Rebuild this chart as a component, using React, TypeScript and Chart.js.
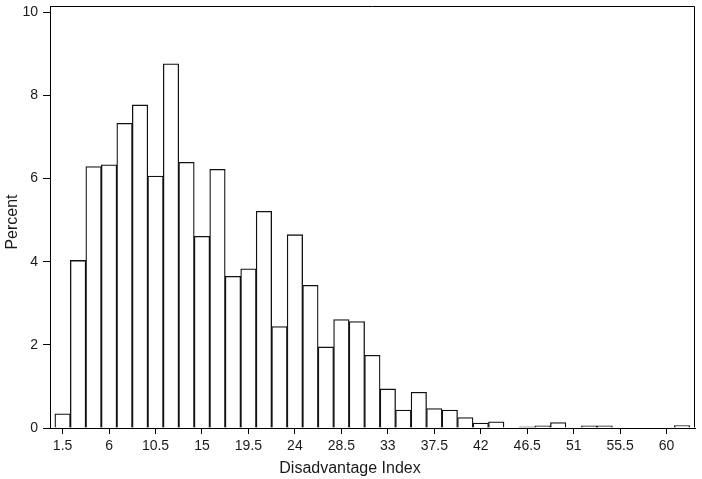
import React, { useEffect, useRef } from "react";
import { Chart, registerables } from "chart.js";

Chart.register(...registerables);

// Bin centres (Disadvantage Index), bin width 1.5
const binCenters = [
  1.5, 3, 4.5, 6, 7.5, 9, 10.5, 12, 13.5, 15, 16.5, 18, 19.5, 21, 22.5, 24, 25.5, 27,
  28.5, 30, 31.5, 33, 34.5, 36, 37.5, 39, 40.5, 42, 43.5, 45, 46.5, 48, 49.5, 51, 52.5,
  54, 55.5, 57, 58.5, 60, 61.5,
];
// Percent per bin
const percentValues = [
  0.34, 4.03, 6.29, 6.33, 7.33, 7.77, 6.06, 8.76, 6.39, 4.61, 6.22, 3.65, 3.83, 5.21,
  2.44, 4.65, 3.43, 1.95, 2.61, 2.56, 1.75, 0.94, 0.43, 0.86, 0.47, 0.43, 0.25, 0.12,
  0.15, 0, 0.03, 0.05, 0.13, 0, 0.05, 0.05, 0, 0, 0, 0, 0.06,
];
const xTickValues = [1.5, 6, 10.5, 15, 19.5, 24, 28.5, 33, 37.5, 42, 46.5, 51, 55.5, 60];
const xTickLabels = ["1.5", "6", "10.5", "15", "19.5", "24", "28.5", "33", "37.5", "42", "46.5", "51", "55.5", "60"];
const yTickValues = [0, 2, 4, 6, 8, 10];
const yTickLabels = ["0", "2", "4", "6", "8", "10"];
const xTitle = "Disadvantage Index";
const yTitle = "Percent";

const FONT = "'Liberation Sans', Arial, sans-serif";
const TEXT = "#1a1a1a";

const framePlugin = {
  id: "frame",
  afterDraw(chart: any) {
    const { ctx, chartArea } = chart;
    const l = Math.round(chartArea.left) + 0.5;
    const r = Math.round(chartArea.right) - 0.5;
    const t = Math.round(chartArea.top) + 0.5;
    const b = Math.round(chartArea.bottom) - 0.5;
    ctx.save();
    ctx.strokeStyle = "#000";
    ctx.lineWidth = 1;
    ctx.beginPath();
    ctx.moveTo(l, t);
    ctx.lineTo(r, t);
    ctx.lineTo(r, b);
    ctx.stroke();

    // axis titles
    ctx.fillStyle = TEXT;
    ctx.font = `16px ${FONT}`;
    ctx.textAlign = "center";
    ctx.textBaseline = "alphabetic";
    ctx.fillText(xTitle, 350, 472.5);
    ctx.translate(16.5, 222);
    ctx.rotate(-Math.PI / 2);
    ctx.fillText(yTitle, 0, 0);
    ctx.restore();
  },
};

export default function App() {
  const ref = useRef<HTMLCanvasElement | null>(null);

  useEffect(() => {
    document.body.style.margin = "0";
    const canvas = ref.current;
    if (!canvas) return;
    const chart = new Chart(canvas, {
      type: "bar",
      data: {
        datasets: [
          {
            data: binCenters.map((x, i) => ({ x, y: percentValues[i] })),
            backgroundColor: "#ffffff",
            borderColor: "#111111",
            borderWidth: 1.3,
            barPercentage: 1,
            categoryPercentage: 1,
          },
        ],
      },
      options: {
        responsive: false,
        animation: false,
        layout: { padding: { left: 0, right: 7, top: 6, bottom: 0 } },
        plugins: {
          legend: { display: false },
          tooltip: { enabled: false },
        },
        scales: {
          x: {
            type: "linear",
            offset: false,
            min: 0.28,
            max: 62.75,
            afterBuildTicks: (scale: any) => {
              scale.ticks = xTickValues.map((v) => ({ value: v }));
            },
            afterFit: (scale: any) => {
              scale.height = 51;
              scale.paddingLeft = 0;
              scale.paddingRight = 0;
            },
            ticks: {
              autoSkip: false,
              maxRotation: 0,
              padding: 4,
              color: TEXT,
              font: { family: FONT, size: 14 },
              callback: (v: any) => {
                const i = xTickValues.indexOf(Number(v));
                return i >= 0 ? xTickLabels[i] : "";
              },
            },
            grid: {
              display: true,
              offset: false,
              drawOnChartArea: false,
              drawTicks: true,
              tickLength: 6,
              color: "#000",
            },
            border: { display: true, color: "#000", width: 1 },
            title: { display: false },
          },
          y: {
            type: "linear",
            min: 0,
            max: 10.15,
            afterBuildTicks: (scale: any) => {
              scale.ticks = yTickValues.map((v) => ({ value: v }));
            },
            afterFit: (scale: any) => {
              scale.width = 50;
              scale.paddingTop = 0;
              scale.paddingBottom = 0;
            },
            ticks: {
              padding: 5,
              color: TEXT,
              font: { family: FONT, size: 14 },
              callback: (v: any) => {
                const i = yTickValues.indexOf(Number(v));
                return i >= 0 ? yTickLabels[i] : "";
              },
            },
            grid: {
              display: true,
              drawOnChartArea: false,
              drawTicks: true,
              tickLength: 7,
              color: "#000",
            },
            border: { display: true, color: "#000", width: 1 },
            title: { display: false },
          },
        },
      },
      plugins: [framePlugin],
    } as any);
    return () => chart.destroy();
  }, []);

  return (
    <div style={{ width: 702, height: 479 }}>
      <canvas ref={ref} width={702} height={479} style={{ display: "block" }} />
    </div>
  );
}
